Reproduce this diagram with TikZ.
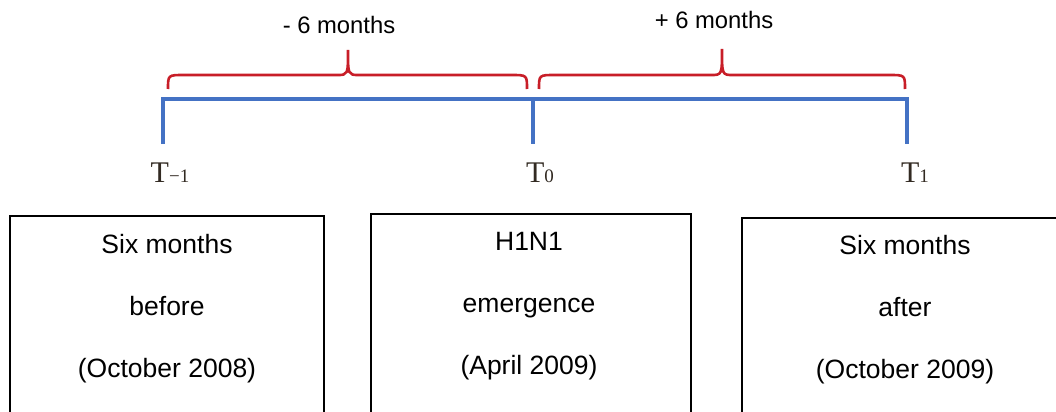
\documentclass[tikz,border=0pt]{standalone}
\usepackage{fontspec}
\setmainfont{Liberation Sans}
\newfontfamily\tfont{Liberation Serif}
\definecolor{lineblue}{RGB}{68,114,196}
\definecolor{bracered}{RGB}{200,30,40}
\definecolor{tlabel}{RGB}{50,42,34}
\tikzset{
	timeline/.style={draw=lineblue,line width=2pt},
	redbrace/.style={draw=bracered,line width=1.3pt},
	periodbox/.style={draw,line width=0.8pt,minimum width=157pt,minimum height=115pt,anchor=north,inner sep=0,outer sep=0},
	boxtext/.style={align=center,font=\fontsize{13.25}{31}\selectfont,inner sep=0},
	tmark/.style={text=tlabel,font=\tfont\fontsize{15}{18}\selectfont,inner sep=0},
	bracelabel/.style={font=\fontsize{11.9}{14}\selectfont,inner sep=0}
}
\newcommand{\sub}[1]{{\fontsize{9.5}{10}\selectfont #1}}
\begin{document}
\begin{tikzpicture}[x=0.5pt,y=-0.5pt]
	\clip (0,0) rectangle (1056,412);
	% time points
	\coordinate (tm) at (163,99);
	\coordinate (t0) at (533,99);
	\coordinate (t1) at (907,99);
	\draw[timeline] ([yshift=-22.5pt]tm) -- (tm) -- (t1) -- ([yshift=-22.5pt]t1);
	\draw[timeline] (t0) -- ([yshift=-22.5pt]t0);
	\node[tmark] (Lm) at (170,173) {T\sub{−1}};
	\node[tmark] (L0) at (540,173) {T\sub{0}};
	\node[tmark] (L1) at (915,173) {T\sub{1}};
	% braces
	\draw[redbrace] (168,89) .. controls (168,75) .. (184,75) -- (337,75)
		.. controls (348,75) .. (348,50) .. controls (348,75) .. (359,75)
		-- (511,75) .. controls (527,75) .. (527,89);
	\draw[redbrace] (539,89) .. controls (539,75) .. (555,75) -- (711,75)
		.. controls (722,75) .. (722,49) .. controls (722,75) .. (733,75)
		-- (889,75) .. controls (905,75) .. (905,89);
	\node[bracelabel] (minus) at (339,25) {- 6 months};
	\node[bracelabel] (plus) at (714,20) {+ 6 months};
	% boxes
	\node[periodbox] (before) at (167,216) {};
	\node[periodbox,minimum width=160pt] (emerg) at (531,214) {};
	\node[periodbox,minimum width=163pt] (after) at (905,218) {};
	\node[boxtext] (beforetxt) at (167,309) {Six months\\before\\(October 2008)};
	\node[boxtext] (emergtxt) at (529,306) {H1N1\\emergence\\(April 2009)};
	\node[boxtext] (aftertxt) at (905,310) {Six months\\after\\(October 2009)};
\end{tikzpicture}
\end{document}
